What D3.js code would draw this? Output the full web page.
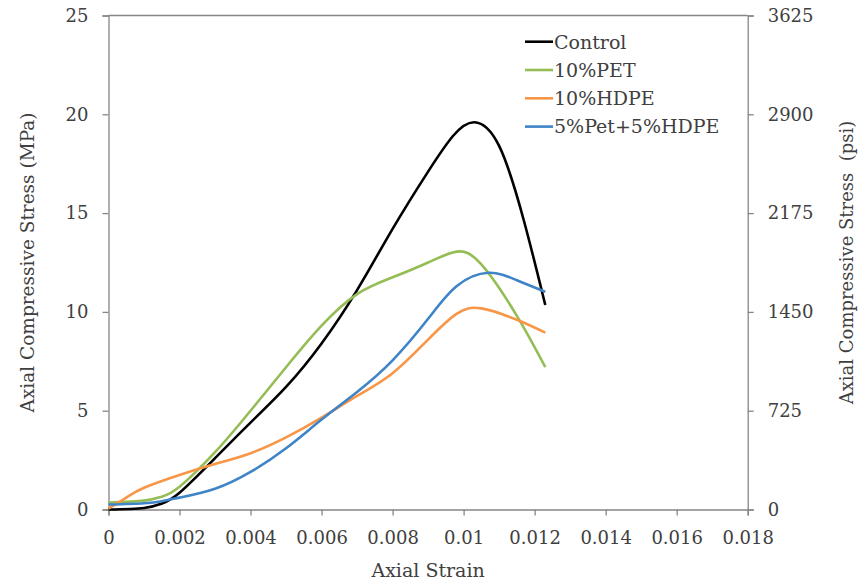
<!DOCTYPE html>
<html>
<head>
<meta charset="utf-8">
<script src="https://cdn.jsdelivr.net/npm/d3@7"></script>
<style>
  body { margin: 0; background: #fff; }
</style>
</head>
<body>
<div id="chart"></div>
<script>
// data (strain, MPa)
var seriesNames = ["Control", "10%PET", "10%HDPE", "5%Pet+5%HDPE"];
var seriesColors = ["#000000", "#94bd55", "#f79646", "#3f84c7"];

var controlData = [[0,0],[0.001,0.08],[0.0015,0.3],[0.002,0.85],[0.003,2.6],[0.004,4.4],
  [0.005,6.2],[0.006,8.4],[0.007,11.1],[0.008,14.2],[0.009,17.1],[0.0097,18.9],[0.0103,19.6],
  [0.011,18.4],[0.0117,14.6],[0.0123,10.35]];
var petData = [[0,0.35],[0.001,0.45],[0.0015,0.65],[0.002,1.15],[0.003,2.9],[0.004,5.0],
  [0.005,7.2],[0.006,9.3],[0.007,10.9],[0.008,11.75],[0.009,12.5],[0.0098,13.05],[0.0105,12.4],
  [0.0115,9.8],[0.0123,7.2]];
var hdpeData = [[0,0.05],[0.0005,0.6],[0.001,1.1],[0.002,1.75],[0.003,2.3],[0.004,2.85],
  [0.005,3.65],[0.006,4.65],[0.007,5.75],[0.008,6.9],[0.009,8.6],[0.0098,9.9],[0.0105,10.18],
  [0.0115,9.6],[0.0123,8.95]];
var blendData = [[0,0.25],[0.001,0.32],[0.0015,0.42],[0.002,0.6],[0.003,1.05],[0.004,1.9],
  [0.005,3.1],[0.006,4.55],[0.007,5.95],[0.008,7.55],[0.009,9.65],[0.0098,11.3],[0.0107,11.98],
  [0.0115,11.6],[0.0123,11.02]];

var xTicks = [0,0.002,0.004,0.006,0.008,0.01,0.012,0.014,0.016,0.018];
var yTicks = [0,5,10,15,20,25];
var psiTicks = [0,725,1450,2175,2900,3625];

var allData = [controlData, petData, hdpeData, blendData];

var margin = {top: 15.5, right: 113.3, bottom: 75.5, left: 108.5},
    width = 861 - margin.left - margin.right,
    height = 585 - margin.top - margin.bottom;

var svg = d3.select("#chart")
  .append("svg")
    .attr("width", 861)
    .attr("height", 585)
  .append("g")
    .attr("transform", "translate(" + margin.left + "," + margin.top + ")");

var x = d3.scaleLinear().domain([0, 0.018]).range([0, width]);
var y = d3.scaleLinear().domain([0, 25]).range([height, 0]);
var y2 = d3.scaleLinear().domain([0, 3625]).range([height, 0]);

var axisColor = "#868686";
var textColor = "#404040";
var font = "DejaVu Serif";

// top border
svg.append("line")
  .attr("x1", 0).attr("x2", width)
  .attr("y1", 0).attr("y2", 0)
  .style("stroke", axisColor).style("stroke-width", 1.3);

var xAxis = svg.append("g")
  .attr("transform", "translate(0," + height + ")")
  .call(d3.axisBottom(x).tickValues(xTicks).tickSize(6).tickPadding(16)
    .tickFormat(function(d) { return String(+d.toFixed(3)); }));

var yAxis = svg.append("g")
  .call(d3.axisLeft(y).tickValues(yTicks).tickSize(6).tickPadding(14)
    .tickFormat(function(d) { return String(d); }));

var y2Axis = svg.append("g")
  .attr("transform", "translate(" + width + ",0)")
  .call(d3.axisRight(y2).tickValues(psiTicks).tickSize(6).tickPadding(14)
    .tickFormat(function(d) { return String(d); }));

[xAxis, yAxis, y2Axis].forEach(function(a) {
  a.attr("font-family", font).attr("font-size", 18);
  a.select(".domain").style("stroke", axisColor).style("stroke-width", 1.3);
  a.selectAll(".tick line").style("stroke", axisColor).style("stroke-width", 1.3);
  a.selectAll(".tick text").attr("fill", textColor);
});

// curves
var line = d3.line()
  .x(function(d) { return x(d[0]); })
  .y(function(d) { return y(d[1]); })
  .curve(d3.curveNatural);

allData.forEach(function(data, i) {
  svg.append("path")
    .datum(data)
    .attr("d", line)
    .style("fill", "none")
    .style("stroke", seriesColors[i])
    .style("stroke-width", 2.6);
});

// axis titles
svg.append("text")
  .attr("x", width / 2)
  .attr("y", 561.5)
  .attr("text-anchor", "middle")
  .attr("font-family", font)
  .attr("font-size", 19)
  .attr("fill", textColor)
  .text("Axial Strain");

svg.append("text")
  .attr("transform", "translate(" + (34 - margin.left) + "," + (height / 2) + ") rotate(-90)")
  .attr("text-anchor", "middle")
  .attr("font-family", font)
  .attr("font-size", 18.5)
  .attr("fill", textColor)
  .text("Axial Compressive Stress (MPa)");

svg.append("text")
  .attr("transform", "translate(" + (853 - margin.left) + "," + (height / 2) + ") rotate(-90)")
  .attr("text-anchor", "middle")
  .attr("font-family", font)
  .attr("font-size", 18)
  .attr("fill", textColor)
  .style("white-space", "pre")
  .text("Axial Compressive Stress  (psi)");

// legend
var legend = svg.append("g")
  .attr("transform", "translate(" + (525 - margin.left) + "," + (41.7 - margin.top) + ")");

seriesNames.forEach(function(name, i) {
  var row = legend.append("g").attr("transform", "translate(0," + (i * 28.3) + ")");
  row.append("line")
    .attr("x1", 0).attr("x2", 28)
    .attr("y1", 0).attr("y2", 0)
    .style("stroke", seriesColors[i])
    .style("stroke-width", 2.6);
  row.append("text")
    .attr("x", 29)
    .attr("y", 0)
    .attr("dy", "0.36em")
    .attr("font-family", font)
    .attr("font-size", 19)
    .attr("fill", textColor)
    .text(name);
});
</script>
</body>
</html>
